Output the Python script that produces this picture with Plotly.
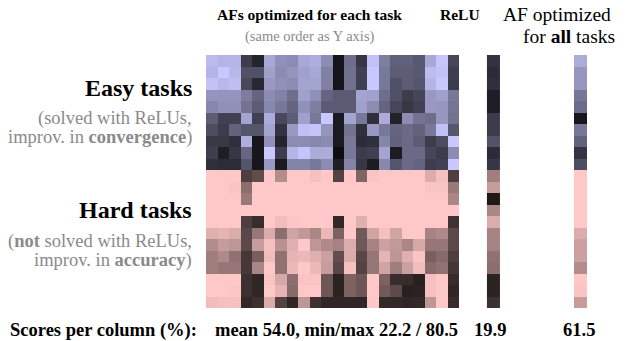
import plotly.graph_objects as go

# Per-task scores (0 = worst, 1 = best) for the AF optimized on each task.
# Rows: tasks (same order as the columns); columns: the AF of each task.
easy_scores = [
    [0.93, 0.90, 0.90, 0.30, 0.18, 0.84, 0.72, 0.70, 0.84, 0.87, 0.70, 0.10, 0.55, 0.27, 0.97, 0.63, 0.48, 0.48, 0.44, 0.84, 0.99, 0.35],
    [0.90, 1.00, 0.92, 0.40, 0.40, 0.80, 0.70, 0.74, 0.80, 0.84, 0.64, 0.10, 0.56, 0.32, 1.00, 0.60, 0.46, 0.46, 0.44, 0.94, 0.97, 0.31],
    [0.97, 0.92, 0.95, 0.36, 0.20, 0.76, 0.72, 0.70, 0.82, 0.82, 0.64, 0.10, 0.56, 0.32, 1.00, 0.60, 0.40, 0.46, 0.42, 0.90, 1.00, 0.30],
    [0.74, 0.74, 0.74, 0.62, 0.50, 0.70, 0.65, 0.55, 0.80, 0.72, 0.50, 0.45, 0.45, 0.82, 0.80, 0.55, 0.40, 0.30, 0.35, 0.76, 0.80, 0.60],
    [0.68, 0.72, 0.72, 0.57, 0.46, 0.68, 0.60, 0.50, 0.72, 0.63, 0.45, 0.45, 0.45, 0.80, 0.70, 0.50, 0.35, 0.27, 0.32, 0.76, 0.75, 0.58],
    [0.46, 0.32, 0.32, 0.82, 0.32, 0.86, 0.36, 0.46, 0.80, 0.60, 1.00, 0.13, 0.82, 0.60, 0.24, 0.86, 0.17, 0.70, 0.57, 0.55, 0.75, 0.57],
    [0.38, 0.30, 0.49, 0.42, 0.42, 0.82, 0.25, 0.76, 0.96, 0.98, 0.74, 0.13, 0.57, 0.24, 0.76, 0.60, 0.50, 0.53, 0.49, 0.60, 0.96, 0.43],
    [0.28, 0.28, 0.24, 0.88, 0.11, 0.72, 0.18, 0.70, 0.70, 0.68, 0.70, 0.13, 0.60, 0.22, 0.24, 0.67, 0.49, 0.53, 0.46, 0.30, 0.38, 1.00],
    [0.31, 0.15, 0.27, 0.51, 0.11, 1.00, 0.30, 0.90, 0.98, 0.86, 0.86, 0.07, 0.60, 0.30, 0.32, 0.82, 0.14, 0.53, 0.53, 0.35, 0.30, 0.70],
    [0.24, 0.22, 0.22, 0.42, 0.11, 0.76, 0.13, 0.66, 0.66, 0.60, 0.70, 0.15, 0.66, 0.27, 0.14, 0.68, 0.42, 0.53, 0.50, 0.30, 0.32, 1.00],
]
hard_scores = [
    [1.00, 1.00, 1.00, 0.31, 0.38, 1.00, 0.70, 1.00, 1.00, 0.96, 1.00, 0.33, 1.00, 0.50, 0.98, 1.00, 1.00, 1.00, 1.00, 0.86, 0.96, 0.31],
    [1.00, 1.00, 0.98, 0.55, 1.00, 1.00, 1.00, 1.00, 1.00, 1.00, 1.00, 1.00, 1.00, 1.00, 1.00, 1.00, 1.00, 1.00, 1.00, 0.98, 0.98, 0.60],
    [1.00, 1.00, 1.00, 0.60, 1.00, 1.00, 1.00, 1.00, 1.00, 1.00, 1.00, 1.00, 1.00, 1.00, 1.00, 1.00, 1.00, 1.00, 1.00, 1.00, 1.00, 0.67],
    [1.00, 1.00, 1.00, 1.00, 1.00, 1.00, 1.00, 1.00, 1.00, 1.00, 1.00, 1.00, 1.00, 1.00, 1.00, 1.00, 1.00, 1.00, 1.00, 1.00, 1.00, 1.00],
    [1.00, 1.00, 1.00, 0.31, 0.22, 1.00, 0.94, 0.99, 1.00, 1.00, 1.00, 0.20, 1.00, 0.88, 1.00, 1.00, 1.00, 1.00, 1.00, 1.00, 1.00, 0.25],
    [0.88, 0.90, 0.86, 0.35, 0.59, 0.86, 0.55, 0.82, 0.76, 0.67, 0.92, 0.49, 1.00, 0.45, 0.82, 0.96, 0.82, 1.00, 1.00, 0.65, 0.69, 0.36],
    [0.70, 0.78, 0.75, 0.36, 0.78, 0.96, 0.73, 0.88, 1.00, 0.75, 0.69, 0.65, 0.86, 0.44, 0.65, 0.80, 0.76, 0.67, 0.84, 0.59, 0.59, 0.36],
    [0.63, 0.69, 0.57, 0.28, 0.47, 0.94, 0.57, 0.90, 0.92, 0.88, 0.80, 0.39, 0.86, 0.35, 0.59, 0.90, 0.75, 0.88, 0.98, 0.47, 0.53, 0.31],
    [0.63, 0.59, 0.59, 0.28, 0.67, 1.00, 0.57, 0.92, 1.00, 0.92, 0.78, 0.35, 0.96, 0.33, 0.59, 0.82, 0.63, 0.80, 0.94, 0.53, 0.57, 0.27],
    [1.00, 1.00, 1.00, 0.24, 0.19, 0.98, 0.84, 0.55, 0.98, 0.98, 0.43, 0.17, 0.49, 0.43, 1.00, 0.49, 0.22, 0.22, 0.16, 0.96, 1.00, 0.22],
    [1.00, 1.00, 0.99, 0.24, 0.19, 1.00, 0.90, 0.53, 1.00, 1.00, 0.43, 0.17, 0.49, 0.43, 1.00, 0.45, 0.37, 0.16, 0.17, 0.96, 1.00, 0.19],
    [0.94, 0.96, 0.96, 0.20, 0.24, 0.86, 0.33, 0.19, 0.75, 0.25, 0.19, 0.19, 0.19, 0.19, 1.00, 0.20, 0.20, 0.19, 0.20, 0.75, 1.00, 0.22],
]
# Baseline ReLU and the single AF optimized for all tasks
relu_easy = [0.25, 0.22, 0.24, 0.15, 0.15, 0.30, 0.30, 0.41, 0.22, 0.27]
relu_hard = [0.63, 0.78, 0.12, 0.67, 0.86, 0.65, 0.65, 0.57, 0.55, 0.17, 0.17, 0.24]
all_easy = [0.86, 0.75, 0.75, 0.59, 0.54, 0.11, 0.59, 0.49, 0.26, 0.39]
all_hard = [1.00, 1.00, 1.00, 1.00, 1.00, 0.86, 0.80, 0.80, 0.70, 1.00, 0.98, 0.78]

score_labels = ["mean 54.0, min/max 22.2 / 80.5", "19.9", "61.5"]

n_tasks = len(easy_scores) + len(hard_scores)
n_easy = len(easy_scores)

easy_scale = [[0, "rgb(0,0,0)"], [1, "rgb(200,200,255)"]]
hard_scale = [[0, "rgb(0,0,0)"], [1, "rgb(255,200,200)"]]

main_edges = list(range(n_tasks + 1))
relu_edges = [24.43, 25.57]
all_edges = [32.0, 33.13]
easy_y = list(range(n_easy + 1))
hard_y = list(range(n_easy, n_tasks + 1))

fig = go.Figure()


def add_block(z, xe, ye, scale):
    fig.add_trace(go.Heatmap(
        z=z, x=xe, y=ye, colorscale=scale, zmin=0, zmax=1,
        showscale=False, hoverinfo="skip",
    ))


add_block(easy_scores, main_edges, easy_y, easy_scale)
add_block(hard_scores, main_edges, hard_y, hard_scale)
add_block([[v] for v in relu_easy], relu_edges, easy_y, easy_scale)
add_block([[v] for v in relu_hard], relu_edges, hard_y, hard_scale)
add_block([[v] for v in all_easy], all_edges, easy_y, easy_scale)
add_block([[v] for v in all_hard], all_edges, hard_y, hard_scale)

# plot area: 11.5 px per cell
L, T, CELL = 206, 55, 11.5
W_UNITS = 36
W, H = 628, 341
PW = W_UNITS * CELL
PH = n_tasks * CELL

SERIF = "Liberation Serif, Times New Roman, serif"
GRAY = "#8a8a8a"


def note(text, x, y, size, color="black", xanchor="center"):
    # x, y in page pixels, converted to paper coordinates
    fig.add_annotation(
        text=text, x=(x - L) / PW, y=1 - (y - T) / PH, xref="paper", yref="paper",
        xanchor=xanchor, yanchor="middle", showarrow=False,
        font=dict(family=SERIF, size=size, color=color),
    )


# column headers
note("<b>AFs optimized for each task</b>", 309, 14, 15.5)
note("(same order as Y axis)", 310, 37, 14.5, GRAY)
note("<b>ReLU</b>", 460, 14, 15.5)
note("AF optimized", 557, 14, 19.5, xanchor="center")
note("for <b>all</b> tasks", 569, 37, 19.5)

# row-group labels
note("<b>Easy tasks</b>", 194, 88, 24, xanchor="right")
note("(solved with ReLUs,", 194, 118, 18.5, GRAY, xanchor="right")
note("improv. in <b>convergence</b>)", 194, 137, 18.5, GRAY, xanchor="right")
note("<b>Hard tasks</b>", 194, 210, 24, xanchor="right")
note("(<b>not</b> solved with ReLUs,", 194, 241, 18.5, GRAY, xanchor="right")
note("improv. in <b>accuracy</b>)", 194, 260, 18.5, GRAY, xanchor="right")

# score summary row
note("<b>Scores per column (%):</b>", 8, 330, 18.5, xanchor="left")
note("<b>" + score_labels[0] + "</b>", 213, 330, 18.5, xanchor="left")
note("<b>" + score_labels[1] + "</b>", 490, 330, 18.5)
note("<b>" + score_labels[2] + "</b>", 579, 330, 18.5)

fig.update_xaxes(range=[0, W_UNITS], visible=False, fixedrange=True)
fig.update_yaxes(range=[n_tasks, 0], visible=False, fixedrange=True)
fig.update_layout(
    width=W, height=H,
    margin=dict(l=L, r=W - L - int(PW), t=T, b=H - T - int(PH)),
    plot_bgcolor="white", paper_bgcolor="white",
    showlegend=False,
)

fig.write_html("out.html")
